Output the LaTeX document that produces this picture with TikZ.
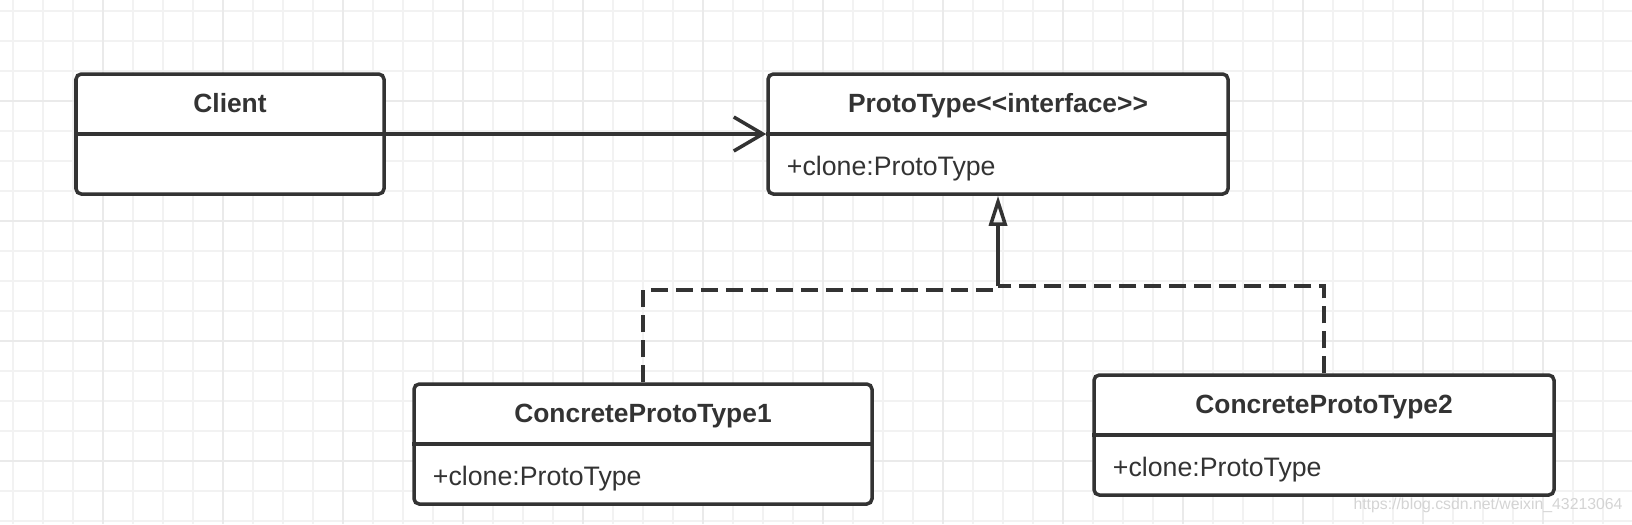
\documentclass[tikz,border=0pt]{standalone}
\usepackage{fontspec}
\setmainfont{Liberation Sans}
\usetikzlibrary{positioning,arrows.meta}
\definecolor{ink}{HTML}{333333}
\definecolor{gridminor}{HTML}{F2F2F2}
\definecolor{gridmajor}{HTML}{EAEAEA}
\definecolor{marktext}{HTML}{D4D4D4}

\begin{document}
\begin{tikzpicture}[x=1cm,y=-1cm,
  classbox/.style={draw=ink,line width=1pt,rounded corners=1.5pt,fill=white,minimum height=1.2cm,inner sep=0pt},
  classname/.style={text=ink,anchor=base,inner sep=0pt,font=\fontsize{7.5}{9}\selectfont\bfseries},
  member/.style={text=ink,anchor=base west,inner sep=0pt,font=\fontsize{7.6}{9}\selectfont},
  assoc/.style={draw=ink,line width=1pt,-{Straight Barb[length=2.9mm,width=3.4mm]}},
  realize/.style={draw=ink,line width=1pt,-{Triangle[open,length=3mm,width=1.8mm]}},
  dashline/.style={draw=ink,line width=1pt,dash pattern=on 1.7mm off 0.8mm}]
  \useasboundingbox (0,0) rectangle (16.32,5.24);
  \fill[white] (0,0) rectangle (16.32,5.24);
  \foreach \gx in {0.133,0.433,...,16.32}
    \draw[gridminor,line width=0.5pt] (\gx,0) -- (\gx,5.24);
  \foreach \gy in {0.107,0.407,...,5.24}
    \draw[gridminor,line width=0.5pt] (0,\gy) -- (16.32,\gy);
  \foreach \gx in {1.033,2.233,...,16.32}
    \draw[gridmajor,line width=0.6pt] (\gx,0) -- (\gx,5.24);
  \foreach \gy in {1.007,2.207,...,5.24}
    \draw[gridmajor,line width=0.6pt] (0,\gy) -- (16.32,\gy);

  \node[classbox,minimum width=3.08cm] (client) at (2.30,1.34) {};
  \node[classbox,minimum width=4.60cm] (proto) at (9.98,1.34) {};
  \node[classbox,minimum width=4.58cm] (cp1) at (6.43,4.44) {};
  \node[classbox,minimum width=4.60cm] (cp2) at (13.24,4.35) {};
  \draw[ink,line width=1pt] (client.west) -- (client.east);
  \draw[ink,line width=1pt] (proto.west) -- (proto.east);
  \draw[ink,line width=1pt] (cp1.west) -- (cp1.east);
  \draw[ink,line width=1pt] (cp2.west) -- (cp2.east);

  \node[classname] (clientname) at ([yshift=-0.40cm]client.north) {Client};
  \node[classname] (protoname) at ([yshift=-0.40cm]proto.north) {ProtoType<{}<interface>{}>};
  \node[classname] (cp1name) at ([yshift=-0.40cm]cp1.north) {ConcreteProtoType1};
  \node[classname] (cp2name) at ([yshift=-0.40cm]cp2.north) {ConcreteProtoType2};
  \node[member] (protoop) at ([xshift=0.20cm,yshift=-0.41cm]proto.west) {+clone:ProtoType};
  \node[member] (cp1op) at ([xshift=0.20cm,yshift=-0.41cm]cp1.west) {+clone:ProtoType};
  \node[member] (cp2op) at ([xshift=0.20cm,yshift=-0.41cm]cp2.west) {+clone:ProtoType};

  \coordinate (fork) at (9.98,2.86);
  \coordinate (forkl) at (9.98,2.90);
  \draw[assoc] (client.east) -- (proto.west);
  \draw[dashline] (cp1.north) |- (forkl);
  \draw[dashline] (cp2.north) |- (fork);
  \draw[realize] (fork) -- (proto.south);

  \node[text=marktext,font=\fontsize{4.5}{5}\selectfont] (mark) at (14.88,5.05) {https://blog.csdn.net/weixin\_43213064};
\end{tikzpicture}
\end{document}
